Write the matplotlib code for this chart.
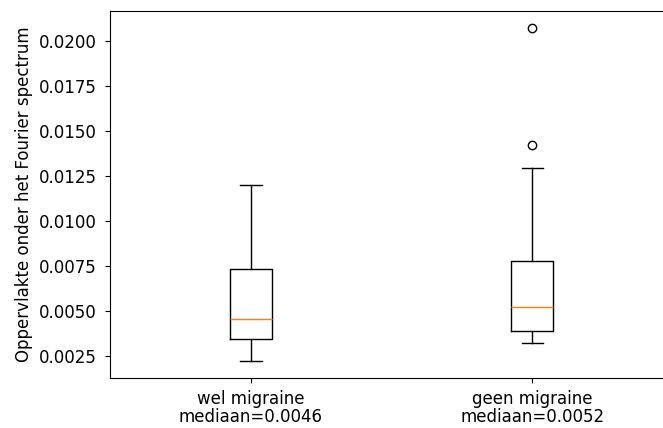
import matplotlib
matplotlib.use("Agg")
import matplotlib.pyplot as plt

# box statistics
groepen = ["wel migraine\nmediaan=0.0046", "geen migraine\nmediaan=0.0052"]
medianen = [0.00458, 0.00525]
q1 = [0.00345, 0.00391]
q3 = [0.00733, 0.00779]
whisker_laag = [0.00222, 0.00326]
whisker_hoog = [0.01201, 0.01294]
uitschieters = [[], [0.01426, 0.02076]]

stats = []
for i in range(len(groepen)):
    stats.append({
        "label": groepen[i],
        "med": medianen[i],
        "q1": q1[i],
        "q3": q3[i],
        "whislo": whisker_laag[i],
        "whishi": whisker_hoog[i],
        "fliers": uitschieters[i],
    })

plt.rcParams["font.size"] = 12
plt.rcParams["xtick.major.size"] = 3.5
plt.rcParams["ytick.major.size"] = 3.5
plt.rcParams["xtick.major.pad"] = 5
plt.rcParams["ytick.major.pad"] = 6.5

fig = plt.figure(figsize=(6.63, 4.28), dpi=100)
# right spine falls outside the picture, as in the original
ax = fig.add_axes([110.3 / 663, 1 - 378 / 428, 562.7 / 663, 367 / 428])
ax.bxp(stats)
for lbl in ax.get_xticklabels():
    lbl.set_linespacing(1.0)
ax.set_ylabel("Oppervlakte onder het Fourier spectrum")
fig.savefig("out.png", dpi=100)
